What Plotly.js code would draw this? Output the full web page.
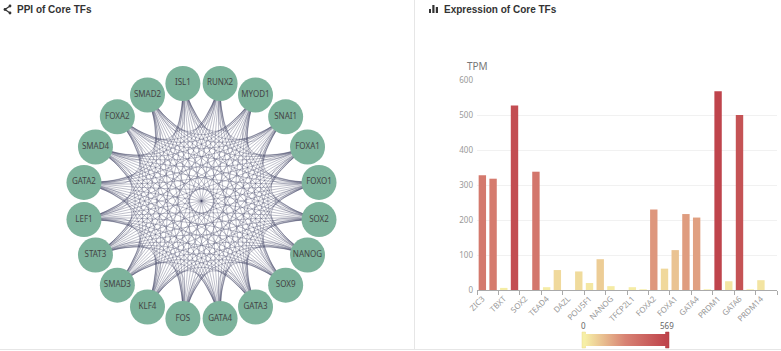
<!DOCTYPE html>
<html><head><meta charset="utf-8">
<script src="https://cdn.plot.ly/plotly-3.0.1.min.js"></script>
<style>html,body{margin:0;padding:0;background:#fff;}#chart{width:781px;height:351px;}</style>
</head><body><div id="chart"></div>
<script>
// ---------- data ----------
// PPI network nodes (circular layout order, clockwise from top)
const nodes = ["ISL1","RUNX2","MYOD1","SNAI1","FOXA1","FOXO1","SOX2","NANOG","SOX9","GATA3",
               "GATA4","FOS","KLF4","SMAD3","STAT3","LEF1","GATA2","SMAD4","FOXA2","SMAD2"];
// Expression bars: 28 categories, only every other label is shown on the axis (others unreadable)
const categories = ["ZIC3",null,"TBXT",null,"SOX2",null,"TEAD4",null,"DAZL",null,"POU5F1",null,"NANOG",null,
                    "TFCP2L1",null,"FOXA2",null,"FOXA1",null,"GATA4",null,"PRDM1",null,"GATA6",null,"PRDM14",null];
const tpm = [328,318,6,527,0,338,8,57,0,53,20,88,11,0,8,2,230,61,114,217,207,2,568,25,500,2,28,0];
const colorRange = [0, 569];
const yTicks = [0,100,200,300,400,500,600];

// ---------- helpers ----------
const W = 781, H = 351;
const px = x => x / W, py = y => 1 - y / H;

// circular layout on unit circle; network axes map unit circle to the panel
const angleOf = i => (99 - 18 * i) * Math.PI / 180;
const pos = nodes.map((n, i) => [Math.cos(angleOf(i)), Math.sin(angleOf(i))]);
const R = 119, CX = 201.5, CY = 201;
const curv = 0.75; // edge bend toward the center

const traces = [];
// edges: every pair of core TFs (complete interaction graph as drawn)
for (let i = 0; i < nodes.length; i++) {
  for (let j = i + 1; j < nodes.length; j++) {
    const p1 = pos[i], p2 = pos[j];
    const mx = (p1[0] + p2[0]) / 2, my = (p1[1] + p2[1]) / 2;
    const cx = mx * (1 - curv), cy = my * (1 - curv);
    const xs = [], ys = [];
    for (let k = 0; k <= 24; k++) {
      const t = k / 24, a = (1 - t) * (1 - t), b = 2 * t * (1 - t), c = t * t;
      xs.push(a * p1[0] + b * cx + c * p2[0]);
      ys.push(a * p1[1] + b * cy + c * p2[1]);
    }
    traces.push({type: 'scatter', mode: 'lines', x: xs, y: ys, xaxis: 'x', yaxis: 'y',
      line: {color: 'rgba(52,54,88,0.45)', width: 0.7}, hoverinfo: 'skip'});
  }
}
// nodes
traces.push({type: 'scatter', mode: 'markers+text', x: pos.map(p => p[0]), y: pos.map(p => p[1]),
  xaxis: 'x', yaxis: 'y', text: nodes, textposition: 'middle center',
  textfont: {family: 'Noto Sans, Arial, sans-serif', size: 8, color: '#444'},
  marker: {size: 35, color: '#7db39c', line: {width: 0}}, hoverinfo: 'text'});

// bars
const idx = tpm.map((v, i) => i);
const tickIdx = categories.map((c, i) => c ? i : null).filter(v => v !== null);
traces.push({type: 'bar', x: idx, y: tpm, xaxis: 'x2', yaxis: 'y2',
  marker: {color: tpm, cmin: colorRange[0], cmax: colorRange[1],
    colorscale: [[0, '#f6efa6'], [0.5, '#d88273'], [1, '#bf444c']],
    line: {width: 0},
    showscale: true,
    colorbar: {orientation: 'h', x: px(625.5), xanchor: 'center', y: (H - 346) / H, yanchor: 'bottom',
      len: 81, lenmode: 'pixels', thickness: 12, outlinewidth: 0, showticklabels: false, ticks: '',
      xpad: 0, ypad: 0}}});

const minorVals = [];
for (let v = -0.5; v <= tpm.length - 0.5; v += 2) minorVals.push(v);

const shapes = [
  // panel separators
  {type: 'line', xref: 'paper', yref: 'paper', x0: px(414.5), x1: px(414.5), y0: py(0), y1: py(349), line: {color: '#e6e6e6', width: 1}},
  {type: 'line', xref: 'paper', yref: 'paper', x0: 0, x1: 1, y0: py(349.5), y1: py(349.5), line: {color: '#e6e6e6', width: 1}},
  // share icon
  {type: 'line', xref: 'paper', yref: 'paper', x0: px(10), y0: py(6), x1: px(5), y1: py(9.5), line: {color: '#333', width: 1.2}},
  {type: 'line', xref: 'paper', yref: 'paper', x0: px(5), y0: py(9.5), x1: px(10), y1: py(13), line: {color: '#333', width: 1.2}},
  {type: 'circle', xref: 'paper', yref: 'paper', x0: px(8.6), x1: px(11.4), y0: py(4.6), y1: py(7.4), fillcolor: '#333', line: {width: 0}},
  {type: 'circle', xref: 'paper', yref: 'paper', x0: px(3.6), x1: px(6.4), y0: py(8.1), y1: py(10.9), fillcolor: '#333', line: {width: 0}},
  {type: 'circle', xref: 'paper', yref: 'paper', x0: px(8.6), x1: px(11.4), y0: py(11.6), y1: py(14.4), fillcolor: '#333', line: {width: 0}},
  // bar icon
  {type: 'rect', xref: 'paper', yref: 'paper', x0: px(429), x1: px(431), y0: py(13), y1: py(9), fillcolor: '#333', line: {width: 0}},
  {type: 'rect', xref: 'paper', yref: 'paper', x0: px(432.3), x1: px(434.5), y0: py(13), y1: py(5), fillcolor: '#333', line: {width: 0}},
  {type: 'rect', xref: 'paper', yref: 'paper', x0: px(435.8), x1: px(438), y0: py(13), y1: py(7), fillcolor: '#333', line: {width: 0}},
  // visualMap handles
  {type: 'rect', xref: 'paper', yref: 'paper', x0: px(582), x1: px(585.5), y0: py(348), y1: py(332), fillcolor: '#f6efa6', line: {color: '#ead98a', width: 0.5}},
  {type: 'rect', xref: 'paper', yref: 'paper', x0: px(665.5), x1: px(669), y0: py(348), y1: py(332), fillcolor: '#bf444c', line: {color: '#a8383f', width: 0.5}}
];

const annFont = {family: 'Liberation Sans, Arial, sans-serif', size: 10, color: '#333'};
const annotations = [
  {text: '<b>PPI of Core TFs</b>', xref: 'paper', yref: 'paper', x: px(15), y: py(9.5), xanchor: 'left', yanchor: 'middle', showarrow: false, font: annFont},
  {text: '<b>Expression of Core TFs</b>', xref: 'paper', yref: 'paper', x: px(441.5), y: py(9.5), xanchor: 'left', yanchor: 'middle', showarrow: false, font: annFont},
  {text: 'TPM', xref: 'paper', yref: 'paper', x: px(477), y: py(66), xanchor: 'center', yanchor: 'middle', showarrow: false,
    font: {family: 'Noto Sans, sans-serif', size: 10, color: '#777'}},
  {text: String(colorRange[0]), xref: 'paper', yref: 'paper', x: px(583.5), y: py(325), xanchor: 'center', yanchor: 'middle', showarrow: false,
    font: {family: 'Noto Sans, sans-serif', size: 8, color: '#666'}},
  {text: String(colorRange[1]), xref: 'paper', yref: 'paper', x: px(667), y: py(325), xanchor: 'center', yanchor: 'middle', showarrow: false,
    font: {family: 'Noto Sans, sans-serif', size: 8, color: '#666'}}
];

const layout = {
  width: W, height: H, margin: {l: 0, r: 0, t: 0, b: 0},
  paper_bgcolor: '#fff', plot_bgcolor: '#fff', showlegend: false, bargap: 0.31,
  xaxis: {domain: [0, px(400)], range: [-CX / R, (400 - CX) / R], visible: false, fixedrange: true},
  yaxis: {domain: [0, 1], range: [-(H - CY) / R, CY / R], visible: false, fixedrange: true},
  xaxis2: {domain: [px(477), px(777)], range: [-0.5, tpm.length - 0.5], anchor: 'y2',
    tickmode: 'array', tickvals: tickIdx, ticktext: tickIdx.map(i => categories[i]), tickangle: -45,
    ticks: '', tickfont: {family: 'Noto Sans, sans-serif', size: 8, color: '#999'},
    showline: true, linecolor: '#aaa', linewidth: 1, showgrid: false, zeroline: false,
    minor: {tickmode: 'array', tickvals: minorVals, ticks: 'outside', ticklen: 4, tickcolor: '#aaa', tickwidth: 1, showgrid: false}},
  yaxis2: {domain: [py(290), py(80)], range: [0, 600], anchor: 'x2', tickmode: 'array', tickvals: yTicks,
    tickfont: {family: 'Noto Sans, sans-serif', size: 8, color: '#999'}, ticks: '',
    showgrid: true, gridcolor: '#f1f1f1', gridwidth: 1, zeroline: false, showline: false, ticklabelstandoff: 3},
  shapes: shapes, annotations: annotations
};

Plotly.newPlot('chart', traces, layout, {displayModeBar: false, staticPlot: true});
</script></body></html>
